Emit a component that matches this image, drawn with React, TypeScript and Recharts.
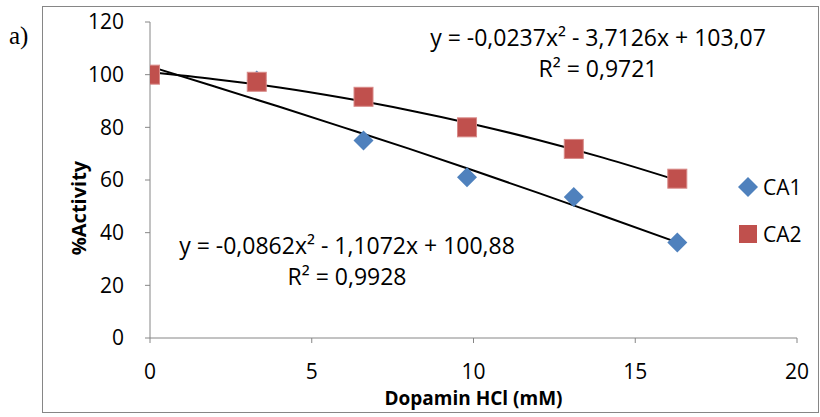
import React from 'react';
import { ComposedChart, Scatter, Line, XAxis, YAxis, Legend } from 'recharts';

// Dopamine HCl concentration (mM) and % activity
const doseMM = [0, 3.3, 6.6, 9.8, 13.1, 16.3];
const ca1Activity = [100, 97.8, 75, 61, 53.5, 36.3];
const ca2Activity = [100, 97.3, 91.6, 80, 71.8, 60.5];

// polynomial trendlines as drawn in the figure
const trendX = [0, 2, 4, 6, 8, 10, 12, 14, 16.3];
const ca1Trend = [103.1, 95.5, 87.8, 79.9, 71.9, 63.6, 55.1, 46.4, 36.3];
const ca2Trend = [100.9, 98.3, 95.1, 91.1, 86.5, 81.2, 75.2, 68.5, 59.9];

const xTicks = [0, 5, 10, 15, 20];
const yTicks = [0, 20, 40, 60, 80, 100, 120];

const upperEquation = ['y = -0,0237x² - 3,7126x + 103,07', 'R² = 0,9721'];
const lowerEquation = ['y = -0,0862x² - 1,1072x + 100,88', 'R² = 0,9928'];

const BLUE = '#4F81BD';
const RED = '#C0504D';
const AXIS = '#868686';
const FONT = '"Open Sans", sans-serif';

const ca1 = doseMM.map((x, i) => ({ x, y: ca1Activity[i] }));
const ca2 = doseMM.map((x, i) => ({ x, y: ca2Activity[i] }));
const ca1Line = trendX.map((x, i) => ({ x, y: ca1Trend[i] }));
const ca2Line = trendX.map((x, i) => ({ x, y: ca2Trend[i] }));

const Diamond = (props: any) => {
  const { cx, cy } = props;
  const r = 10;
  return <polygon points={`${cx},${cy - r} ${cx + r},${cy} ${cx},${cy + r} ${cx - r},${cy}`} fill={BLUE} />;
};

const Square = (props: any) => {
  const { cx, cy } = props;
  const s = 19;
  return <rect x={cx - s / 2} y={cy - s / 2} width={s} height={s} fill={RED} stroke="#d88a88" strokeWidth={1} />;
};

const renderLegend = (props: any) => {
  const items = (props.payload || []).filter((p: any) => p.type !== 'none');
  return (
    <div style={{ fontFamily: FONT, fontSize: 21, width: 90 }}>
      {items.map((p: any) => (
        <div key={p.value} style={{ display: 'flex', alignItems: 'center', height: 47 }}>
          <svg width={22} height={22} style={{ marginLeft: 1, marginRight: 4 }}>
            {p.value === 'CA1' ? (
              <polygon points="11,1 21,11 11,21 1,11" fill={BLUE} />
            ) : (
              <rect x={2} y={2} width={18} height={18} fill={RED} />
            )}
          </svg>
          <span>{p.value}</span>
        </div>
      ))}
    </div>
  );
};

const YTitle = () => (
  <text
    x={78}
    y={208}
    transform="rotate(-90 78 208)"
    textAnchor="middle"
    dominantBaseline="central"
    fontFamily={FONT}
    fontWeight="bold"
    fontSize={20}
    fill="#000"
  >
    %Activity
  </text>
);

const eqStyle: React.CSSProperties = {
  position: 'absolute',
  fontFamily: FONT,
  fontSize: 23,
  lineHeight: '31px',
  textAlign: 'center',
  color: '#000',
  whiteSpace: 'nowrap',
};

export default function App() {
  return (
    <div style={{ position: 'absolute', left: 0, top: 0, width: 820, height: 417, background: '#fff' }}>
      <div
        style={{
          position: 'absolute',
          left: 42,
          top: 6,
          width: 777,
          height: 407,
          border: `1px solid ${AXIS}`,
          boxSizing: 'border-box',
        }}
      />
      <div
        style={{
          position: 'absolute',
          left: 9,
          top: 22,
          fontFamily: '"Liberation Serif", serif',
          fontSize: 25,
        }}
      >
        a)
      </div>
      <ComposedChart width={820} height={417} margin={{ top: 22, right: 23, left: 0, bottom: 0 }}>
        <XAxis
          type="number"
          dataKey="x"
          domain={[0, 20]}
          ticks={xTicks}
          allowDataOverflow
          height={79}
          stroke={AXIS}
          tickSize={5}
          tickMargin={21}
          tick={{ fill: '#000', fontFamily: FONT, fontSize: 21 }}
          label={{
            value: 'Dopamin HCl (mM)',
            position: 'insideBottom',
            offset: 12,
            fill: '#000',
            fontFamily: FONT,
            fontWeight: 'bold',
            fontSize: 19,
          }}
        />
        <YAxis
          type="number"
          dataKey="y"
          domain={[0, 120]}
          ticks={yTicks}
          width={150}
          stroke={AXIS}
          tickSize={5}
          tickMargin={21}
          tick={{ fill: '#000', fontFamily: FONT, fontSize: 21 }}
          label={<YTitle />}
        />
        <Legend
          layout="horizontal"
          verticalAlign="middle"
          align="right"
          content={renderLegend}
          wrapperStyle={{ position: 'absolute', left: 736, top: 163, width: 0, height: 0, overflow: 'visible' }}
        />
        <Scatter name="CA1" data={ca1} fill={BLUE} shape={Diamond} isAnimationActive={false} />
        <Scatter name="CA2" data={ca2} fill={RED} shape={Square} isAnimationActive={false} />
        <Line
          data={ca1Line}
          dataKey="y"
          type="monotone"
          stroke="#000"
          strokeWidth={2}
          dot={false}
          activeDot={false}
          legendType="none"
          isAnimationActive={false}
        />
        <Line
          data={ca2Line}
          dataKey="y"
          type="monotone"
          stroke="#000"
          strokeWidth={2}
          dot={false}
          activeDot={false}
          legendType="none"
          isAnimationActive={false}
        />
      </ComposedChart>
      <div style={{ ...eqStyle, left: 598, top: 22, transform: 'translateX(-50%)' }}>
        {upperEquation.map((t) => (
          <div key={t}>{t}</div>
        ))}
      </div>
      <div style={{ ...eqStyle, left: 347, top: 230, transform: 'translateX(-50%)' }}>
        {lowerEquation.map((t) => (
          <div key={t}>{t}</div>
        ))}
      </div>
    </div>
  );
}
